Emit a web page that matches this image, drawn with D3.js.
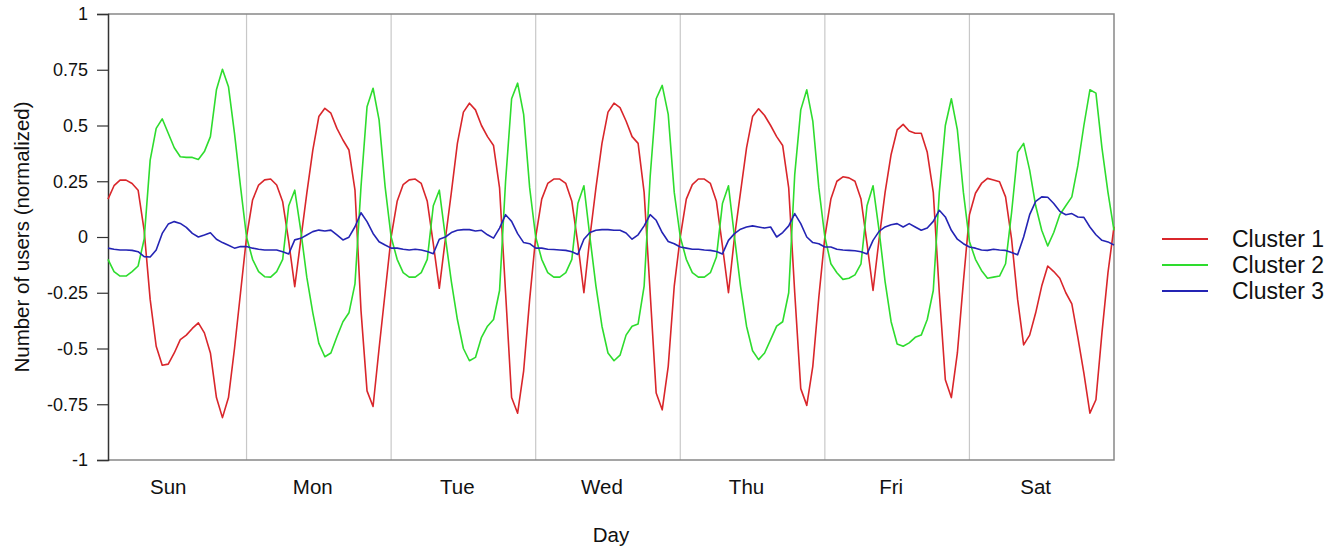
<!DOCTYPE html>
<html>
<head>
<meta charset="utf-8">
<script src="https://cdn.jsdelivr.net/npm/d3@7"></script>
<style>
  body { margin: 0; background: #fff; }
  text { font-family: "Liberation Sans", Arial, sans-serif; fill: #111; }
</style>
</head>
<body>
<div class="chart"></div>
<script>
// hourly values, one day after another (Sun..Sat), 24 points per day
const days = ['Sun', 'Mon', 'Tue', 'Wed', 'Thu', 'Fri', 'Sat'];
const yTicks = [1, 0.75, 0.5, 0.25, 0, -0.25, -0.5, -0.75, -1];
const seriesNames = ['Cluster 1', 'Cluster 2', 'Cluster 3'];

const cluster1 = [
  0.17, 0.23, 0.255, 0.255, 0.24, 0.21, 0.03, -0.28, -0.49, -0.575, -0.57, -0.52, -0.46, -0.44, -0.41, -0.385, -0.43, -0.52, -0.72, -0.81, -0.72, -0.5, -0.25, 0.0,
  0.166, 0.233, 0.256, 0.26, 0.233, 0.158, -0.02, -0.223, -0.013, 0.196, 0.39, 0.54, 0.577, 0.555, 0.487, 0.435, 0.39, 0.21, -0.33, -0.69, -0.76, -0.5, -0.25, 0.0,
  0.16, 0.235, 0.256, 0.26, 0.24, 0.16, -0.03, -0.23, -0.01, 0.2, 0.42, 0.56, 0.6, 0.57, 0.5, 0.45, 0.41, 0.22, -0.25, -0.72, -0.79, -0.6, -0.28, 0.0,
  0.17, 0.24, 0.26, 0.26, 0.24, 0.16, -0.03, -0.25, 0.0, 0.22, 0.42, 0.56, 0.6, 0.58, 0.52, 0.45, 0.42, 0.2, -0.25, -0.7, -0.775, -0.58, -0.22, 0.0,
  0.17, 0.235, 0.26, 0.26, 0.24, 0.16, -0.04, -0.25, 0.0, 0.2, 0.4, 0.54, 0.575, 0.545, 0.5, 0.45, 0.41, 0.22, -0.25, -0.68, -0.755, -0.58, -0.27, 0.0,
  0.17, 0.25, 0.27, 0.265, 0.25, 0.17, -0.03, -0.24, -0.01, 0.2, 0.37, 0.48, 0.505, 0.475, 0.465, 0.465, 0.38, 0.2, -0.25, -0.64, -0.72, -0.52, -0.2, 0.1,
  0.196, 0.24, 0.263, 0.256, 0.248, 0.18, -0.01, -0.28, -0.484, -0.44, -0.34, -0.22, -0.13, -0.155, -0.185, -0.25, -0.3, -0.45, -0.61, -0.79, -0.73, -0.43, -0.16, 0.046
];

const cluster2 = [
  -0.1, -0.155, -0.175, -0.175, -0.155, -0.13, -0.01, 0.345, 0.487, 0.53, 0.465, 0.4, 0.36, 0.357, 0.357, 0.348, 0.383, 0.45, 0.66, 0.752, 0.674, 0.465, 0.226, 0.0,
  -0.1, -0.155, -0.178, -0.18, -0.155, -0.1, 0.14, 0.21, 0.03, -0.18, -0.34, -0.477, -0.537, -0.52, -0.447, -0.38, -0.34, -0.21, 0.226, 0.584, 0.667, 0.525, 0.226, 0.0,
  -0.1, -0.16, -0.18, -0.18, -0.16, -0.1, 0.14, 0.21, 0.0, -0.2, -0.37, -0.5, -0.555, -0.54, -0.45, -0.4, -0.37, -0.24, 0.25, 0.62, 0.69, 0.55, 0.22, 0.0,
  -0.1, -0.16, -0.18, -0.18, -0.16, -0.1, 0.15, 0.23, 0.0, -0.22, -0.4, -0.52, -0.555, -0.53, -0.44, -0.4, -0.39, -0.22, 0.27, 0.62, 0.68, 0.55, 0.2, 0.0,
  -0.1, -0.16, -0.18, -0.18, -0.16, -0.09, 0.15, 0.23, 0.0, -0.22, -0.4, -0.51, -0.55, -0.52, -0.46, -0.4, -0.38, -0.25, 0.28, 0.57, 0.66, 0.52, 0.22, 0.0,
  -0.12, -0.16, -0.19, -0.185, -0.17, -0.12, 0.14, 0.23, 0.03, -0.2, -0.38, -0.48, -0.49, -0.475, -0.45, -0.44, -0.37, -0.24, 0.2, 0.5, 0.62, 0.48, 0.2, -0.02,
  -0.1, -0.15, -0.185, -0.18, -0.175, -0.12, 0.11, 0.38, 0.42, 0.3, 0.14, 0.03, -0.04, 0.02, 0.1, 0.14, 0.18, 0.32, 0.5, 0.66, 0.645, 0.4, 0.2, 0.03
];

const cluster3 = [
  -0.05, -0.055, -0.058, -0.058, -0.06, -0.066, -0.088, -0.09, -0.058, 0.016, 0.058, 0.069, 0.061, 0.043, 0.016, 0.0, 0.009, 0.019, -0.01, -0.025, -0.037, -0.05, -0.043, -0.043,
  -0.05, -0.055, -0.058, -0.058, -0.058, -0.066, -0.076, -0.013, -0.006, 0.009, 0.024, 0.031, 0.027, 0.031, 0.009, -0.013, -0.001, 0.046, 0.109, 0.069, 0.016, -0.021, -0.036, -0.05,
  -0.05, -0.055, -0.058, -0.055, -0.058, -0.065, -0.075, -0.01, 0.0, 0.02, 0.03, 0.033, 0.033, 0.027, 0.03, 0.01, -0.005, 0.04, 0.1, 0.07, 0.015, -0.025, -0.03, -0.05,
  -0.05, -0.055, -0.056, -0.058, -0.06, -0.066, -0.078, -0.01, 0.02, 0.03, 0.033, 0.033, 0.03, 0.03, 0.018, -0.01, 0.01, 0.05, 0.1, 0.075, 0.02, -0.02, -0.03, -0.045,
  -0.05, -0.055, -0.055, -0.058, -0.06, -0.065, -0.076, -0.015, 0.015, 0.035, 0.045, 0.05, 0.045, 0.04, 0.045, 0.0, 0.02, 0.05, 0.105, 0.06, 0.0, -0.025, -0.03, -0.045,
  -0.045, -0.055, -0.058, -0.06, -0.062, -0.066, -0.076, -0.015, 0.025, 0.045, 0.055, 0.06, 0.045, 0.06, 0.045, 0.03, 0.04, 0.07, 0.12, 0.09, 0.03, -0.01, -0.03, -0.045,
  -0.05, -0.058, -0.06, -0.055, -0.058, -0.06, -0.07, -0.08, 0.0, 0.1, 0.16, 0.18, 0.178, 0.15, 0.115, 0.1, 0.105, 0.09, 0.088, 0.045, 0.01, -0.015, -0.022, -0.036
];

const colors = ['#d9262b', '#2edc2e', '#2424b4'];

function makeChart() {
  const width = 1335;
  const height = 548;
  const margin = {top: 14, left: 108, right: 221, bottom: 88};

  const svg = d3.select('.chart').append('svg')
    .attr('width', width)
    .attr('height', height);

  const hours = d3.range(1, cluster1.length + 1);
  const x = d3.scaleLinear()
    .domain([1, hours.length])
    .range([margin.left, width - margin.right]);
  const y = d3.scaleLinear()
    .domain([-1, 1])
    .range([height - margin.bottom, margin.top]);

  // day separators
  svg.append('g')
    .selectAll('line')
    .data(d3.range(1, days.length))
    .enter()
    .append('line')
    .attr('x1', d => x(d * 24))
    .attr('x2', d => x(d * 24))
    .attr('y1', y(1))
    .attr('y2', y(-1))
    .attr('stroke', '#c8c8c8')
    .attr('stroke-width', 1.2);

  // frame (top, right, bottom)
  svg.append('path')
    .attr('d', `M${x(1)},${y(1)}H${x(hours.length)}V${y(-1)}H${x(1)}`)
    .attr('fill', 'none')
    .attr('stroke', '#888')
    .attr('stroke-width', 1.5);

  // y axis
  const yAxis = d3.axisLeft(y)
    .tickValues(yTicks)
    .tickSize(11)
    .tickPadding(9)
    .tickFormat(d => String(d));
  const gy = svg.append('g')
    .attr('transform', `translate(${x(1)},0)`)
    .call(yAxis);
  gy.select('.domain').attr('stroke', '#333').attr('stroke-width', 1.5);
  gy.selectAll('.tick line').attr('stroke', '#333').attr('stroke-width', 1.2);
  gy.selectAll('.tick text')
    .attr('font-size', 18)
    .attr('fill', '#111')
    .attr('font-family', '"Liberation Sans", Arial, sans-serif');

  // day labels
  svg.append('g')
    .selectAll('text')
    .data(days)
    .enter()
    .append('text')
    .attr('x', (d, i) => x(i * 24 + 11))
    .attr('y', 494)
    .attr('text-anchor', 'middle')
    .attr('font-size', 20.5)
    .text(d => d);

  // axis titles
  svg.append('text')
    .attr('x', 611)
    .attr('y', 542)
    .attr('text-anchor', 'middle')
    .attr('font-size', 20.5)
    .text('Day');

  svg.append('text')
    .attr('transform', `translate(29,${(y(1) + y(-1)) / 2}) rotate(-90)`)
    .attr('text-anchor', 'middle')
    .attr('font-size', 20.5)
    .text('Number of users (normalized)');

  // lines
  const series = [cluster1, cluster2, cluster3];
  const line = d3.line()
    .x((d, i) => x(hours[i]))
    .y(d => y(d));

  svg.append('g')
    .selectAll('path')
    .data(series)
    .enter()
    .append('path')
    .attr('d', line)
    .attr('fill', 'none')
    .attr('stroke', (d, i) => colors[i])
    .attr('stroke-width', 1.6)
    .attr('stroke-linejoin', 'round');

  // legend
  const legend = svg.append('g')
    .selectAll('g')
    .data(seriesNames)
    .enter()
    .append('g')
    .attr('transform', (d, i) => `translate(1162,${239 + i * 26})`);
  legend.append('line')
    .attr('x1', 0)
    .attr('x2', 46)
    .attr('stroke', (d, i) => colors[i])
    .attr('stroke-width', 2);
  legend.append('text')
    .attr('x', 70)
    .attr('y', 8)
    .attr('font-size', 23)
    .text(d => d);
}

makeChart();
</script>
</body>
</html>
